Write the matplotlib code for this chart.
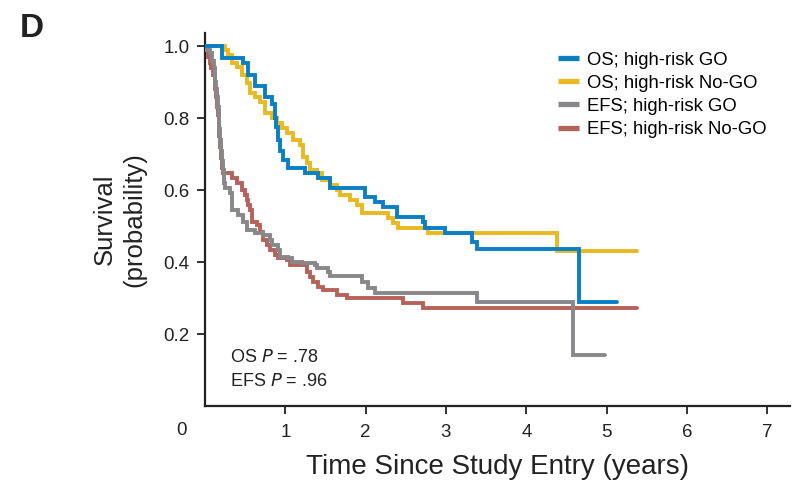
import matplotlib
matplotlib.use("Agg")
import matplotlib.pyplot as plt

plt.rcParams['font.family'] = ['Liberation Sans', 'DejaVu Sans']

# ---- data (time in years, survival probability after each step) ----
os_go_t = [0, 0.21, 0.47, 0.54, 0.62, 0.75, 0.84, 0.87, 0.89, 0.91, 0.93, 0.97, 1.03,
           1.25, 1.41, 1.56, 1.99, 2.12, 2.22, 2.39, 2.71, 2.74, 2.99, 3.32, 3.39, 4.65, 5.13]
os_go_s = [1.0, 0.967, 0.953, 0.92, 0.89, 0.86, 0.84, 0.80, 0.775, 0.74, 0.71, 0.683, 0.66,
           0.647, 0.633, 0.605, 0.58, 0.567, 0.553, 0.525, 0.51, 0.494, 0.48, 0.456, 0.435, 0.289, 0.289]

os_nogo_t = [0, 0.25, 0.29, 0.34, 0.40, 0.46, 0.52, 0.56, 0.62, 0.68, 0.75, 0.83, 0.90, 0.96,
             1.02, 1.10, 1.18, 1.22, 1.27, 1.31, 1.39, 1.46, 1.56, 1.64, 1.68, 1.81, 1.89, 1.96,
             2.28, 2.34, 2.40, 2.78, 4.38, 5.38]
os_nogo_s = [1.0, 0.989, 0.975, 0.953, 0.942, 0.92, 0.897, 0.87, 0.858, 0.844, 0.814, 0.80, 0.786, 0.772,
             0.758, 0.739, 0.725, 0.692, 0.675, 0.656, 0.647, 0.628, 0.614, 0.60, 0.586, 0.572, 0.558, 0.536,
             0.522, 0.508, 0.494, 0.48, 0.431, 0.431]

efs_go_t = [0, 0.03, 0.06, 0.09, 0.11, 0.12, 0.13, 0.14, 0.15, 0.16, 0.17, 0.18, 0.19, 0.20, 0.21,
            0.22, 0.24, 0.25, 0.31, 0.33, 0.34, 0.41, 0.47, 0.52, 0.62, 0.72, 0.81, 0.83, 0.91, 0.93,
            1.03, 1.08, 1.21, 1.37, 1.39, 1.53, 1.56, 1.95, 2.03, 2.12, 3.39, 4.58, 4.98]
efs_go_s = [1.0, 0.99, 0.98, 0.96, 0.94, 0.92, 0.90, 0.88, 0.86, 0.83, 0.80, 0.77, 0.74, 0.71, 0.68,
            0.656, 0.62, 0.606, 0.592, 0.56, 0.544, 0.531, 0.511, 0.489, 0.481, 0.475, 0.461, 0.447, 0.433, 0.414,
            0.411, 0.40, 0.397, 0.392, 0.383, 0.372, 0.361, 0.344, 0.328, 0.314, 0.289, 0.142, 0.142]

efs_nogo_t = [0, 0.02, 0.04, 0.06, 0.08, 0.10, 0.12, 0.13, 0.14, 0.15, 0.16, 0.17, 0.18, 0.19, 0.20,
              0.21, 0.22, 0.34, 0.40, 0.46, 0.50, 0.52, 0.54, 0.56, 0.58, 0.59, 0.65, 0.68, 0.72, 0.77,
              0.81, 0.87, 0.91, 1.02, 1.06, 1.27, 1.31, 1.34, 1.41, 1.47, 1.64, 1.77, 2.47, 2.71, 5.38]
efs_nogo_s = [1.0, 0.99, 0.97, 0.953, 0.94, 0.92, 0.906, 0.88, 0.86, 0.83, 0.81, 0.78, 0.75, 0.72, 0.69,
              0.66, 0.647, 0.633, 0.619, 0.60, 0.586, 0.572, 0.558, 0.544, 0.528, 0.511, 0.503, 0.483, 0.461, 0.447,
              0.433, 0.419, 0.411, 0.406, 0.392, 0.372, 0.358, 0.344, 0.331, 0.322, 0.308, 0.30, 0.286, 0.272, 0.272]

labels = ["OS; high-risk GO", "OS; high-risk No-GO", "EFS; high-risk GO", "EFS; high-risk No-GO"]
colors = ["#0a7fc4", "#e8b920", "#88888a", "#b5625b"]
x_ticks = [1, 2, 3, 4, 5, 6, 7]
y_ticks = [0.2, 0.4, 0.6, 0.8, 1.0]

fig = plt.figure(figsize=(7.93, 4.88), dpi=100)
ax = fig.add_axes([0.2585, 0.168, 0.7375, 0.764])

series = [(os_go_t, os_go_s), (os_nogo_t, os_nogo_s), (efs_go_t, efs_go_s), (efs_nogo_t, efs_nogo_s)]
for i in [3, 2, 1, 0]:
    t, s = series[i]
    ax.step(t, s, where='post', color=colors[i], lw=2.8, solid_capstyle='round',
            solid_joinstyle='miter', label=labels[i], zorder=3)

ax.set_xlim(0, 7.28)
ax.set_ylim(0, 1.036)
ax.set_xticks(x_ticks)
ax.set_xticklabels([str(v) for v in x_ticks])
ax.set_yticks(y_ticks)
ax.set_yticklabels([f"{v:.1f}" for v in y_ticks])
ax.tick_params(axis='both', direction='out', length=6, width=1.3, labelsize=13.5, colors='#222222', pad=5)
ax.tick_params(axis='x', pad=7)
for sp in ['top', 'right']:
    ax.spines[sp].set_visible(False)
for sp in ['left', 'bottom']:
    ax.spines[sp].set_linewidth(1.6)
    ax.spines[sp].set_color('#222222')

ax.text(-0.29, -0.067, "0", transform=ax.transData, fontsize=13.5, color='#222222',
        ha='center', va='center')

ax.set_xlabel("Time Since Study Entry (years)", fontsize=20, color='#222222', labelpad=9)
ax.set_ylabel("Survival\n(probability)", fontsize=18.5, color='#222222', labelpad=12, linespacing=1.3)

handles, labs = ax.get_legend_handles_labels()
hmap = dict(zip(labs, handles))
leg = ax.legend([hmap[l] for l in labels], labels, loc='upper left', bbox_to_anchor=(0.585, 0.98),
                frameon=False, fontsize=13.3, handlelength=1.12, handletextpad=0.42,
                labelspacing=0.33, borderaxespad=0.2)
for line in leg.get_lines():
    line.set_linewidth(3.8)
    line.set_solid_capstyle('butt')

ax.text(0.042, 0.118, "OS $\\it{P}$ = .78", transform=ax.transAxes, fontsize=13, color='#222222')
ax.text(0.042, 0.055, "EFS $\\it{P}$ = .96", transform=ax.transAxes, fontsize=13, color='#222222')

fig.text(0.025, 0.925, "D", fontsize=24, fontweight='bold', color='#222222')

fig.savefig("out.png", dpi=100)
